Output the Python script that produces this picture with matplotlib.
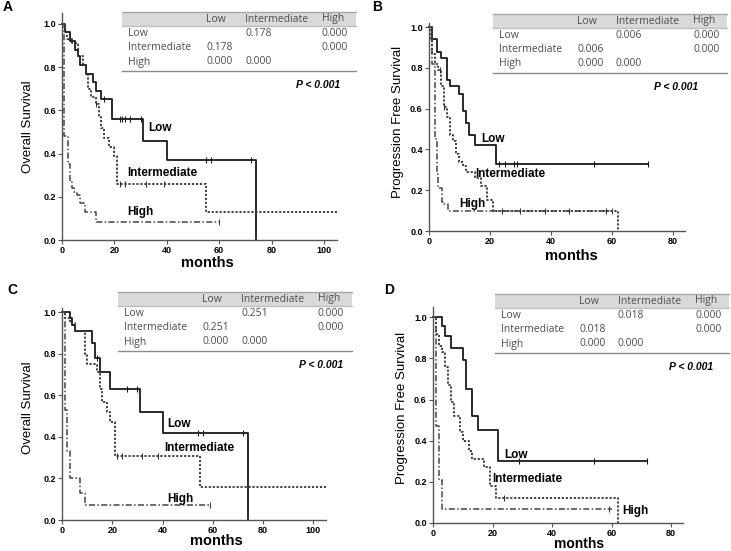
import numpy as np
import matplotlib
matplotlib.use("Agg")
import matplotlib.pyplot as plt
from matplotlib.patches import Rectangle
from matplotlib.lines import Line2D

plt.rcParams['font.family'] = ['Liberation Sans', 'DejaVu Sans']

W, H = 731, 551

groups = ["Low", "Intermediate", "High"]

# ---- Panel A: overall survival ----
a_low_t = [0, 1, 3, 5, 6, 7, 9, 12, 13, 15, 19, 31, 40, 74]
a_low_s = [1.0, 0.96, 0.92, 0.88, 0.85, 0.81, 0.77, 0.73, 0.69, 0.65, 0.56, 0.46, 0.37, 0.0]
a_low_c = [16, 22, 23, 24, 26, 30, 55, 57, 72]
a_int_t = [0, 1, 2, 4, 6, 8, 9, 10, 11, 13, 14, 15, 16, 18, 20, 21, 55, 105]
a_int_s = [1.0, 0.97, 0.93, 0.91, 0.85, 0.81, 0.77, 0.70, 0.66, 0.63, 0.57, 0.52, 0.47, 0.43, 0.39, 0.26, 0.13, 0.13]
a_int_c = [13, 22, 24, 32, 39]
a_high_t = [0, 0.8, 2.2, 3, 3.7, 4.6, 5.9, 6.9, 8.8, 13, 60]
a_high_s = [1.0, 0.48, 0.35, 0.27, 0.24, 0.22, 0.21, 0.17, 0.13, 0.085, 0.085]
a_high_c = [60]
a_pvals = ["0.178", "0.000", "0.000"]   # low-int, low-high, int-high

# ---- Panel B: progression free survival ----
b_low_t = [0, 1, 2.5, 4, 6, 7, 10, 11, 12, 13, 15, 22, 72]
b_low_s = [1.0, 0.94, 0.88, 0.85, 0.74, 0.71, 0.67, 0.59, 0.53, 0.47, 0.42, 0.33, 0.33]
b_low_c = [23, 25, 28, 29, 54, 72]
b_int_t = [0, 0.5, 1, 2, 3, 4, 5, 6, 7, 8, 9, 10, 11, 12, 15, 17, 19, 21, 62]
b_int_s = [1.0, 0.94, 0.87, 0.82, 0.79, 0.71, 0.61, 0.56, 0.47, 0.44, 0.38, 0.34, 0.32, 0.29, 0.26, 0.22, 0.15, 0.10, 0.0]
b_int_c = [3.5, 5, 24, 30, 38, 46, 58]
b_high_t = [0, 0.9, 2, 2.5, 3, 4.2, 5, 6.3, 60]
b_high_s = [1.0, 0.82, 0.45, 0.28, 0.21, 0.14, 0.13, 0.10, 0.10]
b_high_c = [60]
b_pvals = ["0.006", "0.000", "0.000"]

# ---- Panel C: overall survival ----
c_low_t = [0, 3, 4, 5, 12, 13, 15, 19, 31, 40, 74]
c_low_s = [1.0, 0.97, 0.94, 0.91, 0.85, 0.78, 0.71, 0.63, 0.52, 0.42, 0.0]
c_low_c = [14, 26, 30, 54, 56, 72]
c_int_t = [0, 1, 3, 5, 9, 10, 14, 15, 16, 18, 19, 21, 55, 105]
c_int_s = [1.0, 0.97, 0.95, 0.91, 0.80, 0.75, 0.71, 0.63, 0.57, 0.52, 0.47, 0.31, 0.16, 0.16]
c_int_c = [22, 24, 32, 38]
c_high_t = [0, 1, 2, 3, 7, 9, 59]
c_high_s = [1.0, 0.53, 0.33, 0.20, 0.13, 0.07, 0.07]
c_high_c = [59]
c_pvals = ["0.251", "0.000", "0.000"]

# ---- Panel D: progression free survival ----
d_low_t = [0, 3, 4, 6, 10, 11, 13, 15, 22, 72]
d_low_s = [1.0, 0.96, 0.91, 0.85, 0.79, 0.65, 0.52, 0.45, 0.30, 0.30]
d_low_c = [29, 54, 72]
d_int_t = [0, 1, 2, 3, 4, 5, 6, 7, 9, 10, 12, 13, 17, 19, 21, 62]
d_int_s = [1.0, 0.92, 0.86, 0.83, 0.76, 0.67, 0.59, 0.52, 0.44, 0.40, 0.35, 0.31, 0.27, 0.18, 0.12, 0.0]
d_int_c = [24]
d_high_t = [0, 1, 2, 3, 60]
d_high_s = [1.0, 0.47, 0.21, 0.07, 0.07]
d_high_c = [59]
d_pvals = ["0.018", "0.000", "0.000"]


def fx(x):
    return x / W


def fy(y):
    return 1 - y / H


fig = plt.figure(figsize=(W / 100, H / 100), dpi=100)

line_styles = {
    "Low": dict(ls="-", lw=1.3, color="#1a1a1a"),
    "Intermediate": dict(ls=(0, (1.2, 1.0)), lw=1.3, color="#333333"),
    "High": dict(ls=(0, (4, 1.5, 1, 1.5)), lw=1.1, color="#444444"),
}


def surv_at(t, s, x):
    i = np.searchsorted(t, x, side="right") - 1
    return s[max(i, 0)]


def km_panel(box, xmax, ymax, xticks, series, labels, ylabel, lab_pos, xl_size=10.5):
    left, right, bottom, top = box
    ax = fig.add_axes([fx(left), fy(bottom), fx(right) - fx(left), fy(top) - fy(bottom)])
    for g, (t, s, c) in zip(groups, series):
        st = line_styles[g]
        ax.step(t, s, where="post", **st, clip_on=False)
        cy = [surv_at(t, s, x) for x in c]
        ax.plot(c, cy, ls="none", marker="|", ms=4, mew=0.8, color=st["color"])
    for g, (lx, ly) in zip(groups, labels):
        ax.text(lx, ly, g, fontsize=8.5, fontweight="bold", ha="left", va="center")
    ax.set_xlim(0, xmax)
    ax.set_ylim(0, ymax)
    ax.set_xticks(xticks)
    ax.set_yticks([0, 0.2, 0.4, 0.6, 0.8, 1.0])
    ax.set_yticklabels([f"{v:.1f}" for v in [0, 0.2, 0.4, 0.6, 0.8, 1.0]])
    for sp in ["top", "right"]:
        ax.spines[sp].set_visible(False)
    for sp in ["left", "bottom"]:
        ax.spines[sp].set_color("#555555")
        ax.spines[sp].set_linewidth(1.0)
    ax.tick_params(length=3, width=0.8, color="#555555", labelsize=6.5, pad=1.5)
    for lbl in ax.get_xticklabels() + ax.get_yticklabels():
        lbl.set_fontweight("bold")
    ax.patch.set_alpha(0)
    (yl_x, yl_y), (xl_x, xl_y) = lab_pos
    fig.text(fx(yl_x), fy(yl_y), ylabel, rotation=90, ha="center", va="center", fontsize=9.5)
    fig.text(fx(xl_x), fy(xl_y), "months", ha="center", va="center", fontsize=xl_size, fontweight="bold")
    return ax


def p_table(left, top, pvals, p_right):
    right = left + 234
    fig.add_artist(Rectangle((fx(left), fy(top + 14)), fx(right) - fx(left), fy(top) - fy(top + 14),
                             transform=fig.transFigure, facecolor="#d9d9d9", edgecolor="none"))
    for yy, c in [(top, "#a6a6a6"), (top + 14, "#bfbfbf"), (top + 59, "#8c8c8c")]:
        fig.add_artist(Line2D([fx(left), fx(right)], [fy(yy), fy(yy)], transform=fig.transFigure,
                              color=c, lw=1.0))
    cols = [left + 6, left + 84, left + 123, left + 200]
    tkw = dict(fontsize=7.5, color="#4d4d4d", family=["Open Sans", "DejaVu Sans"], va="center", ha="left")
    for j, h in enumerate(groups):
        fig.text(fx(cols[j + 1]), fy(top + 7), h, **tkw)
    cells = [["", pvals[0], pvals[1]],
             [pvals[0], "", pvals[2]],
             [pvals[1], pvals[2], ""]]
    for i, g in enumerate(groups):
        ry = top + 21 + 14.5 * i
        fig.text(fx(cols[0]), fy(ry), g, **tkw)
        for j, v in enumerate(cells[i]):
            if v:
                fig.text(fx(cols[j + 1]), fy(ry), v, **tkw)
    fig.text(fx(p_right), fy(top + 73), "P < 0.001", fontsize=7.5, fontweight="bold",
             style="italic", ha="right", va="center")


# Panel A
km_panel((62, 337, 240, 13), 105, 1.05, [0, 20, 40, 60, 80, 100],
         [(a_low_t, a_low_s, a_low_c), (a_int_t, a_int_s, a_int_c), (a_high_t, a_high_s, a_high_c)],
         [(33, 0.52), (25, 0.31), (25, 0.13)], "Overall Survival", ((28, 127), (207, 263)))
p_table(122, 12, a_pvals, 340)

# Panel B
km_panel((429, 685, 231, 23), 84, 1.02, [0, 20, 40, 60, 80],
         [(b_low_t, b_low_s, b_low_c), (b_int_t, b_int_s, b_int_c), (b_high_t, b_high_s, b_high_c)],
         [(17, 0.45), (15.3, 0.28), (9.8, 0.13)], "Progression Free Survival", ((398, 122), (571, 256)))
p_table(493, 14, b_pvals, 698)

# Panel C
km_panel((62, 326, 520, 308), 105, 1.02, [0, 20, 40, 60, 80, 100],
         [(c_low_t, c_low_s, c_low_c), (c_int_t, c_int_s, c_int_c), (c_high_t, c_high_s, c_high_c)],
         [(42, 0.46), (40.5, 0.345), (42, 0.10)], "Overall Survival", ((28, 408), (216, 541)))
p_table(118, 292, c_pvals, 343)

# Panel D
km_panel((433, 683, 523, 307), 84, 1.05, [0, 20, 40, 60, 80],
         [(d_low_t, d_low_s, d_low_c), (d_int_t, d_int_s, d_int_c), (d_high_t, d_high_s, d_high_c)],
         [(24, 0.33), (20, 0.215), (63.6, 0.057)], "Progression Free Survival", ((402, 408), (579, 543.5)),
         xl_size=10)
p_table(495, 294, d_pvals, 713)

for letter, (lx, ly) in zip("ABCD", [(8, 7), (377, 7), (12, 290), (389, 290)]):
    fig.text(fx(lx), fy(ly), letter, fontsize=10, fontweight="bold", ha="center", va="center")

fig.savefig("out.png", dpi=100)
